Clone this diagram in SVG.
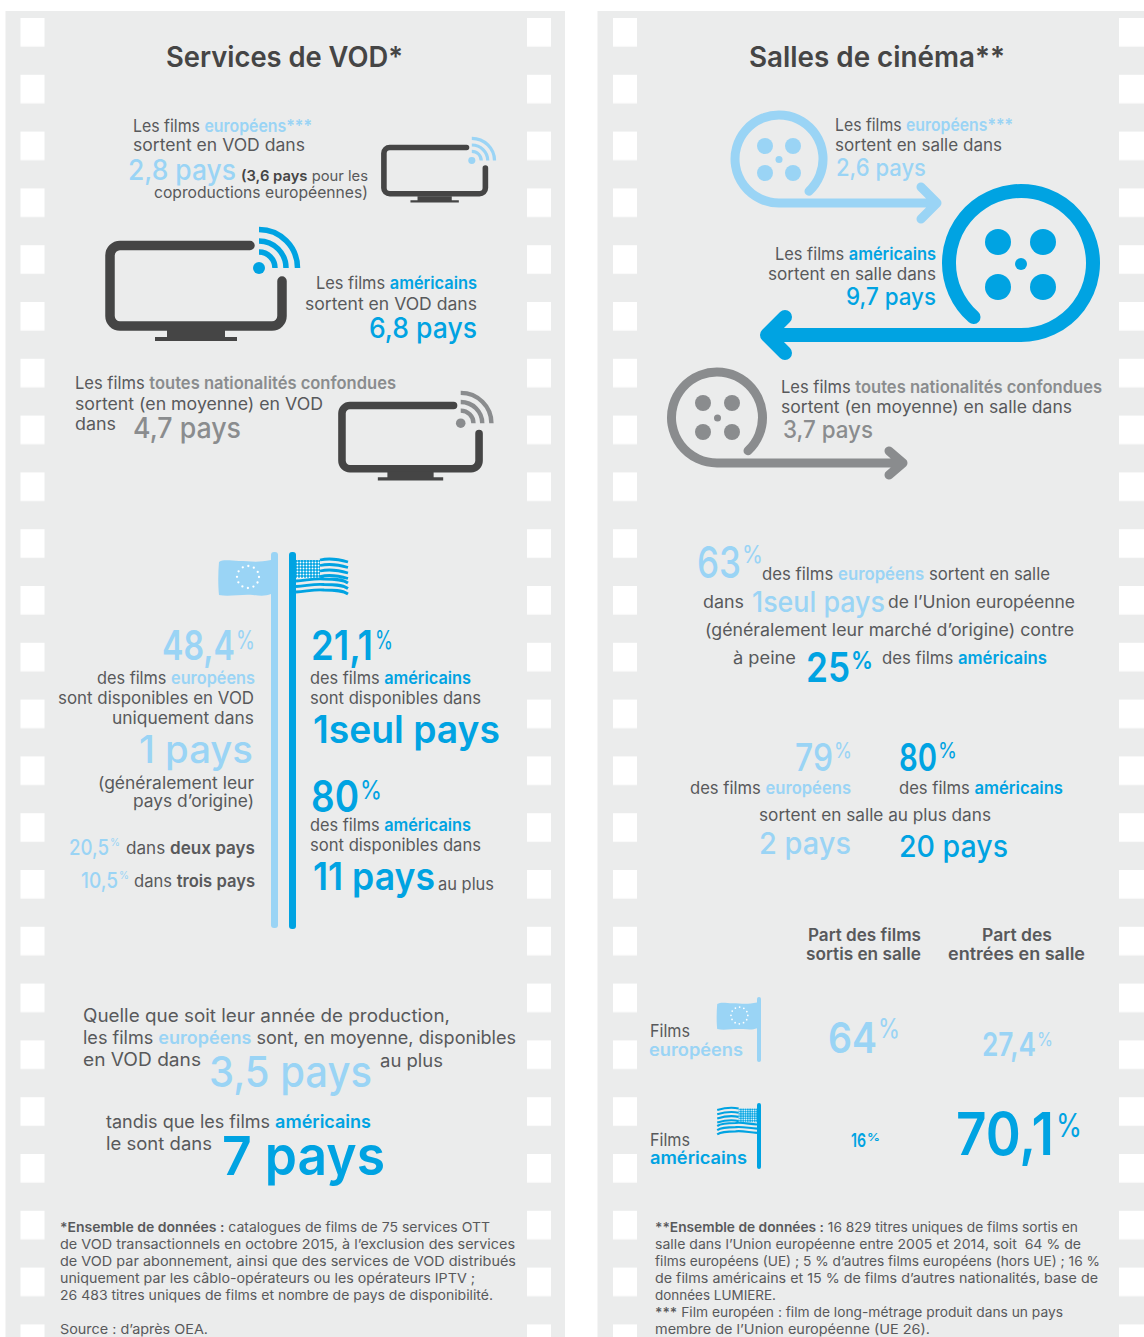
<svg xmlns="http://www.w3.org/2000/svg" width="1144" height="1337" viewBox="0 0 1144 1337">
<style>
text{font-family:"Inter","Liberation Sans",sans-serif;fill:#58595b;font-size:17px;white-space:pre}
.ti{font-size:28px;font-weight:600;fill:#454545}
.b{font-weight:600}
.k{font-weight:500}
.l{fill:#9ad4f5}
.u{fill:#00a3e2}
.g{fill:#8a8c8e}
.d{fill:#454545}
.n{font-size:13.500px}
.lw{fill:none;stroke-linecap:round;stroke-linejoin:round}
.hd{font-weight:600;fill:#58595b}
</style>
<defs>
<pattern id="holes" x="0" y="18" width="24" height="56.8" patternUnits="userSpaceOnUse"><rect width="24" height="28.6" fill="#fff"/></pattern>
<pattern id="dots" x="0" y="0" width="3" height="3" patternUnits="userSpaceOnUse"><rect width="3" height="3" fill="#00a3e2"/><circle cx="1.5" cy="1.5" r=".95" fill="#fff"/></pattern>
<g id="tv">
<path d="M250,245.5H120a10,10 0 0 0-10,10V316a10,10 0 0 0 10,10H272a10,10 0 0 0 10-10V281" fill="none" stroke="#454545" stroke-width="9.5" stroke-linecap="round"/>
<path d="M167,330H225V337H237V341H155V337H167Z" fill="#454545"/>
</g>
<g id="wifi" fill="none" stroke="currentColor" stroke-width="5.5">
<circle cx="259" cy="268" r="6" fill="currentColor" stroke="none"/>
<path d="M259,252A16,16 0 0 1 275,268M259,241A27,27 0 0 1 286,268M259,229.5A38.5,38.5 0 0 1 297.500,268"/>
</g>
<g id="euflag">
<path d="M0,2C-14,5-22,3-32,3C-40,3-47,1-52,4C-53,15-53,28-52,37C-42,39-30,36-18,37C-10,38-5,38 0,36Z" fill="#9ad4f5"/>
<circle cx="-23" cy="19" r="11" fill="none" stroke="#fff" stroke-width="2.300" stroke-linecap="round" stroke-dasharray="0 5.760"/>
</g>
<g id="usflag" fill="none" stroke="#00a3e2" stroke-width="2.800">
<rect x="0" y="2" width="24" height="18" fill="url(#dots)" stroke="none"/>
<path d="M24,2c9,-2 18,-1 28,2M24,7.500c9,-2 18,-1 28,2M24,13c9,-2 18,-1 28,2M24,18.500c9,-2 18,-1 28,2M0,23c12,-1 20,-3 28,-2c9,0 18,0 24,4M0,28.500c12,-1 20,-3 28,-2c9,0 18,0 24,4M0,34c12,-1 20,-3 28,-2c9,0 18,0 24,4"/>
</g>
</defs>
<rect width="1144" height="1337" fill="#fff"/>
<g id="film-strips">
<rect x="5.500" y="11" width="559.500" height="1326" fill="#ebecec"/>
<rect x="597.500" y="11" width="546.500" height="1326" fill="#ebecec"/>
<g transform="translate(20.500,0)"><rect width="24" height="1337" fill="url(#holes)"/></g>
<g transform="translate(527,0)"><rect width="24" height="1337" fill="url(#holes)"/></g>
<g transform="translate(613,0)"><rect width="24" height="1337" fill="url(#holes)"/></g>
<g transform="translate(1119,0)"><rect width="25" height="1337" fill="url(#holes)"/></g>
</g>
<g id="vod-title"><text class="ti" x="166" y="67" textLength="237" lengthAdjust="spacingAndGlyphs">Services de VOD*</text></g>
<g id="vod-europe">
<use href="#tv" transform="translate(319,6.400) scale(.59,.575)"/>
<use href="#wifi" transform="translate(319,6.400) scale(.59,.575)" color="#9ad4f5"/>
<text x="133" y="132" textLength="179" lengthAdjust="spacingAndGlyphs">Les films <tspan class="l b">européens***</tspan></text>
<text x="133" y="151" textLength="172" lengthAdjust="spacingAndGlyphs">sortent en VOD dans</text>
<text class="l k" x="128" y="180" style="font-size:28px" textLength="108" lengthAdjust="spacingAndGlyphs">2,8 pays</text>
<text x="241" y="181" style="font-size:14.500px" textLength="127" lengthAdjust="spacingAndGlyphs"><tspan class="b d">(3,6 pays</tspan> pour les</text>
<text x="154" y="198" style="font-size:16px" textLength="214" lengthAdjust="spacingAndGlyphs">coproductions européennes)</text>
</g>
<g id="vod-america">
<use href="#tv"/>
<use href="#wifi" color="#00a3e2"/>
<text x="316" y="289" textLength="161" lengthAdjust="spacingAndGlyphs">Les films <tspan class="u b">américains</tspan></text>
<text x="305" y="310" textLength="172" lengthAdjust="spacingAndGlyphs">sortent en VOD dans</text>
<text class="u k" x="369" y="338" style="font-size:28px" textLength="108" lengthAdjust="spacingAndGlyphs">6,8 pays</text>
</g>
<g id="vod-all">
<use href="#tv" transform="translate(254.300,212.800) scale(.797,.785)"/>
<use href="#wifi" transform="translate(254.300,212.800) scale(.797,.785)" color="#8a8c8e"/>
<text x="75" y="389" textLength="321" lengthAdjust="spacingAndGlyphs">Les films <tspan class="g b">toutes nationalités confondues</tspan></text>
<text x="75" y="410" textLength="248" lengthAdjust="spacingAndGlyphs">sortent (en moyenne) en VOD</text>
<text x="75" y="430" textLength="41" lengthAdjust="spacingAndGlyphs">dans</text>
<text class="g k" x="133" y="438" style="font-size:28px" textLength="108" lengthAdjust="spacingAndGlyphs">4,7 pays</text>
</g>
<g id="flags-poles">
<rect x="271" y="552" width="7" height="376" rx="3" fill="#9ad4f5"/>
<rect x="289" y="552" width="7" height="377" rx="3" fill="#00a3e2"/>
<use href="#euflag" transform="translate(271,558)"/>
<use href="#usflag" transform="translate(296,558)"/>
</g>
<g id="vod-eu-share">
<text class="l b" x="162" y="660" style="font-size:41px" textLength="73" lengthAdjust="spacingAndGlyphs">48,4</text>
<text class="l" x="236" y="649" style="font-size:25px" textLength="19" lengthAdjust="spacingAndGlyphs">%</text>
<text x="97" y="684" textLength="158" lengthAdjust="spacingAndGlyphs">des films <tspan class="l b">européens</tspan></text>
<text x="58" y="704" textLength="196" lengthAdjust="spacingAndGlyphs">sont disponibles en VOD</text>
<text x="112" y="724" textLength="142" lengthAdjust="spacingAndGlyphs">uniquement dans</text>
<text class="l k" x="139" y="763" style="font-size:38px" textLength="114" lengthAdjust="spacingAndGlyphs">1 pays</text>
<text x="98" y="789" textLength="156" lengthAdjust="spacingAndGlyphs">(généralement leur</text>
<text x="133" y="807" textLength="121" lengthAdjust="spacingAndGlyphs">pays d’origine)</text>
<text class="l k" x="69" y="855" style="font-size:22px" textLength="40" lengthAdjust="spacingAndGlyphs">20,5</text>
<text class="l" x="110" y="846" style="font-size:11px" textLength="10" lengthAdjust="spacingAndGlyphs">%</text>
<text x="126" y="854" textLength="129" lengthAdjust="spacingAndGlyphs">dans <tspan class="b">deux pays</tspan></text>
<text class="l k" x="81" y="888" style="font-size:22px" textLength="37" lengthAdjust="spacingAndGlyphs">10,5</text>
<text class="l" x="119" y="879" style="font-size:11px" textLength="10" lengthAdjust="spacingAndGlyphs">%</text>
<text x="134" y="887" textLength="121" lengthAdjust="spacingAndGlyphs">dans <tspan class="b">trois pays</tspan></text>
</g>
<g id="vod-us-share">
<text class="u b" x="311" y="660" style="font-size:41px" textLength="62" lengthAdjust="spacingAndGlyphs">21,1</text>
<text class="u" x="375" y="649" style="font-size:25px" textLength="18" lengthAdjust="spacingAndGlyphs">%</text>
<text x="310" y="684" textLength="161" lengthAdjust="spacingAndGlyphs">des films <tspan class="u b">américains</tspan></text>
<text x="310" y="704" textLength="171" lengthAdjust="spacingAndGlyphs">sont disponibles dans</text>
<text class="u b" x="313" y="743" style="font-size:38px" textLength="187" lengthAdjust="spacingAndGlyphs">1seul pays</text>
<text class="u b" x="311" y="812" style="font-size:44px" textLength="48" lengthAdjust="spacingAndGlyphs">80</text>
<text class="u" x="360" y="799" style="font-size:26px" textLength="22" lengthAdjust="spacingAndGlyphs">%</text>
<text x="310" y="831" textLength="161" lengthAdjust="spacingAndGlyphs">des films <tspan class="u b">américains</tspan></text>
<text x="310" y="851" textLength="171" lengthAdjust="spacingAndGlyphs">sont disponibles dans</text>
<text class="u b" x="313" y="890" style="font-size:38px" textLength="122" lengthAdjust="spacingAndGlyphs">11 pays</text>
<text x="438" y="890" textLength="56" lengthAdjust="spacingAndGlyphs">au plus</text>
</g>
<g id="vod-average">
<text x="83" y="1022" style="font-size:18px" textLength="367" lengthAdjust="spacingAndGlyphs">Quelle que soit leur année de production,</text>
<text x="83" y="1044" style="font-size:18px" textLength="433" lengthAdjust="spacingAndGlyphs">les films <tspan class="l b">européens</tspan> sont, en moyenne, disponibles</text>
<text x="83" y="1066" style="font-size:18px" textLength="118" lengthAdjust="spacingAndGlyphs">en VOD dans</text>
<text class="l k" x="209" y="1087" style="font-size:43px" textLength="163" lengthAdjust="spacingAndGlyphs">3,5 pays</text>
<text x="380" y="1067" style="font-size:18px" textLength="63" lengthAdjust="spacingAndGlyphs">au plus</text>
<text x="106" y="1128" style="font-size:18px" textLength="265" lengthAdjust="spacingAndGlyphs">tandis que les films <tspan class="u b">américains</tspan></text>
<text x="106" y="1150" style="font-size:18px" textLength="106" lengthAdjust="spacingAndGlyphs">le sont dans</text>
<text class="u b" x="222" y="1175" style="font-size:54px" textLength="163" lengthAdjust="spacingAndGlyphs">7 pays</text>
</g>
<g id="vod-notes">
<text class="n" x="60" y="1232" textLength="430" lengthAdjust="spacingAndGlyphs"><tspan class="b">*Ensemble de données :</tspan> catalogues de films de 75 services OTT</text>
<text class="n" x="60" y="1249" textLength="455" lengthAdjust="spacingAndGlyphs">de VOD transactionnels en octobre 2015, à l’exclusion des services</text>
<text class="n" x="60" y="1266" textLength="456" lengthAdjust="spacingAndGlyphs">de VOD par abonnement, ainsi que des services de VOD distribués</text>
<text class="n" x="60" y="1283" textLength="415" lengthAdjust="spacingAndGlyphs">uniquement par les câblo-opérateurs ou les opérateurs IPTV ;</text>
<text class="n" x="60" y="1300" textLength="433" lengthAdjust="spacingAndGlyphs">26 483 titres uniques de films et nombre de pays de disponibilité.</text>
<text class="n" x="60" y="1334" textLength="148" lengthAdjust="spacingAndGlyphs">Source : d’après OEA.</text>
</g>
<g id="cinema-title"><text class="ti" x="749" y="67" textLength="256" lengthAdjust="spacingAndGlyphs">Salles de cinéma**</text></g>
<g id="reel-europe">
<path class="lw" d="M809,191.200A44,44 0 1 0 779,203H937M921,187L937,203L921,219" stroke="#9ad4f5" stroke-width="9"/>
<g fill="#9ad4f5"><circle cx="765" cy="146" r="8"/><circle cx="793" cy="146" r="8"/><circle cx="765" cy="173" r="8"/><circle cx="793" cy="173" r="8"/><circle cx="779" cy="159.500" r="3.500"/></g>
<text x="835" y="131" textLength="178" lengthAdjust="spacingAndGlyphs">Les films <tspan class="l b">européens***</tspan></text>
<text x="835" y="151" textLength="167" lengthAdjust="spacingAndGlyphs">sortent en salle dans</text>
<text class="l k" x="836" y="176" style="font-size:24px" textLength="90" lengthAdjust="spacingAndGlyphs">2,6 pays</text>
</g>
<g id="reel-america">
<path class="lw" d="M973.500,317.100A72,72 0 1 1 1021,335H767M785,317L767,335L785,353" stroke="#00a3e2" stroke-width="14"/>
<g fill="#00a3e2"><circle cx="998" cy="242" r="13"/><circle cx="1043" cy="242" r="13"/><circle cx="998" cy="287" r="13"/><circle cx="1043" cy="287" r="13"/><circle cx="1021" cy="264" r="6"/></g>
<text x="775" y="260" textLength="161" lengthAdjust="spacingAndGlyphs">Les films <tspan class="u b">américains</tspan></text>
<text x="768" y="280" textLength="168" lengthAdjust="spacingAndGlyphs">sortent en salle dans</text>
<text class="u k" x="846" y="305" style="font-size:24px" textLength="90" lengthAdjust="spacingAndGlyphs">9,7 pays</text>
</g>
<g id="reel-all">
<path class="lw" d="M748,450.800A45.500,45.500 0 1 0 717,463H903M889,451L903,463L889,475" stroke="#8a8c8e" stroke-width="9"/>
<g fill="#8a8c8e"><circle cx="703" cy="403" r="8"/><circle cx="732" cy="403" r="8"/><circle cx="703" cy="432" r="8"/><circle cx="732" cy="432" r="8"/><circle cx="717.500" cy="418" r="3.500"/></g>
<text x="781" y="393" textLength="321" lengthAdjust="spacingAndGlyphs">Les films <tspan class="g b">toutes nationalités confondues</tspan></text>
<text x="781" y="413" textLength="291" lengthAdjust="spacingAndGlyphs">sortent (en moyenne) en salle dans</text>
<text class="g k" x="783" y="438" style="font-size:24px" textLength="90" lengthAdjust="spacingAndGlyphs">3,7 pays</text>
</g>
<g id="cinema-one-country">
<text class="l k" x="697" y="578" style="font-size:44px" textLength="44" lengthAdjust="spacingAndGlyphs">63</text>
<text class="l" x="742" y="563" style="font-size:24px" textLength="21" lengthAdjust="spacingAndGlyphs">%</text>
<text x="762" y="580" textLength="288" lengthAdjust="spacingAndGlyphs">des films <tspan class="l b">européens</tspan> sortent en salle</text>
<text x="703" y="608" textLength="41" lengthAdjust="spacingAndGlyphs">dans</text>
<text class="l k" x="752" y="612" style="font-size:28px" textLength="133" lengthAdjust="spacingAndGlyphs">1seul pays</text>
<text x="888" y="608" textLength="187" lengthAdjust="spacingAndGlyphs">de l’Union européenne</text>
<text x="705" y="636" textLength="369" lengthAdjust="spacingAndGlyphs">(généralement leur marché d’origine) contre</text>
<text x="733" y="664" textLength="63" lengthAdjust="spacingAndGlyphs">à peine</text>
<text class="u b" x="806" y="682" style="font-size:41px" textLength="44" lengthAdjust="spacingAndGlyphs">25</text>
<text class="u b" x="851" y="669" style="font-size:24px" textLength="22" lengthAdjust="spacingAndGlyphs">%</text>
<text x="882" y="664" textLength="165" lengthAdjust="spacingAndGlyphs">des films <tspan class="u b">américains</tspan></text>
</g>
<g id="cinema-max-countries">
<text class="l k" x="795" y="771" style="font-size:38px" textLength="38" lengthAdjust="spacingAndGlyphs">79</text>
<text class="l" x="834" y="758" style="font-size:22px" textLength="18" lengthAdjust="spacingAndGlyphs">%</text>
<text class="u b" x="899" y="771" style="font-size:38px" textLength="38" lengthAdjust="spacingAndGlyphs">80</text>
<text class="u" x="938" y="758" style="font-size:22px" textLength="19" lengthAdjust="spacingAndGlyphs">%</text>
<text x="690" y="794" textLength="161" lengthAdjust="spacingAndGlyphs">des films <tspan class="l b">européens</tspan></text>
<text x="899" y="794" textLength="164" lengthAdjust="spacingAndGlyphs">des films <tspan class="u b">américains</tspan></text>
<text x="759" y="821" textLength="232" lengthAdjust="spacingAndGlyphs">sortent en salle au plus dans</text>
<text class="l k" x="759" y="854" style="font-size:30px" textLength="92" lengthAdjust="spacingAndGlyphs">2 pays</text>
<text class="u k" x="899" y="857" style="font-size:30px" textLength="109" lengthAdjust="spacingAndGlyphs">20 pays</text>
</g>
<g id="share-table">
<text class="hd" x="808" y="941" textLength="113" lengthAdjust="spacingAndGlyphs">Part des films</text>
<text class="hd" x="806" y="960" textLength="115" lengthAdjust="spacingAndGlyphs">sortis en salle</text>
<text class="hd" x="982" y="941" textLength="70" lengthAdjust="spacingAndGlyphs">Part des</text>
<text class="hd" x="948" y="960" textLength="137" lengthAdjust="spacingAndGlyphs">entrées en salle</text>
<rect x="757" y="997" width="4" height="65" rx="2" fill="#9ad4f5"/>
<use href="#euflag" transform="translate(757,1001) scale(.765,.76)"/>
<rect x="757" y="1103" width="4" height="66" rx="2" fill="#00a3e2"/>
<use href="#usflag" transform="translate(757,1107) scale(-.765,.76)"/>
<text x="650" y="1037" textLength="40" lengthAdjust="spacingAndGlyphs">Films</text>
<text class="l b" x="649" y="1056" textLength="94" lengthAdjust="spacingAndGlyphs">européens</text>
<text x="650" y="1146" textLength="40" lengthAdjust="spacingAndGlyphs">Films</text>
<text class="u b" x="650" y="1164" textLength="97" lengthAdjust="spacingAndGlyphs">américains</text>
<text class="l b" x="828" y="1053" style="font-size:43px" textLength="49" lengthAdjust="spacingAndGlyphs">64</text>
<text class="l" x="878" y="1038" style="font-size:27px" textLength="22" lengthAdjust="spacingAndGlyphs">%</text>
<text class="l b" x="982" y="1056" style="font-size:33px" textLength="54" lengthAdjust="spacingAndGlyphs">27,4</text>
<text class="l" x="1037" y="1046" style="font-size:19px" textLength="16" lengthAdjust="spacingAndGlyphs">%</text>
<text class="u b" x="851" y="1147" style="font-size:19px" textLength="15" lengthAdjust="spacingAndGlyphs">16</text>
<text class="u b" x="867" y="1141" style="font-size:11px" textLength="13" lengthAdjust="spacingAndGlyphs">%</text>
<text class="u b" x="956" y="1155" style="font-size:59px" textLength="98" lengthAdjust="spacingAndGlyphs">70,1</text>
<text class="u" x="1056" y="1137" style="font-size:33px" textLength="26" lengthAdjust="spacingAndGlyphs">%</text>
</g>
<g id="cinema-notes">
<text class="n" x="655" y="1232" textLength="423" lengthAdjust="spacingAndGlyphs"><tspan class="b">**Ensemble de données :</tspan> 16 829 titres uniques de films sortis en</text>
<text class="n" x="655" y="1249" textLength="426" lengthAdjust="spacingAndGlyphs">salle dans l’Union européenne entre 2005 et 2014, soit  64 % de</text>
<text class="n" x="655" y="1266" textLength="445" lengthAdjust="spacingAndGlyphs">films européens (UE) ; 5 % d’autres films européens (hors UE) ; 16 %</text>
<text class="n" x="655" y="1283" textLength="443" lengthAdjust="spacingAndGlyphs">de films américains et 15 % de films d’autres nationalités, base de</text>
<text class="n" x="655" y="1300" textLength="121" lengthAdjust="spacingAndGlyphs">données LUMIERE.</text>
<text class="n" x="655" y="1317" textLength="408" lengthAdjust="spacingAndGlyphs"><tspan class="b">***</tspan> Film européen : film de long-métrage produit dans un pays</text>
<text class="n" x="655" y="1334" textLength="275" lengthAdjust="spacingAndGlyphs">membre de l’Union européenne (UE 26).</text>
</g>
</svg>
